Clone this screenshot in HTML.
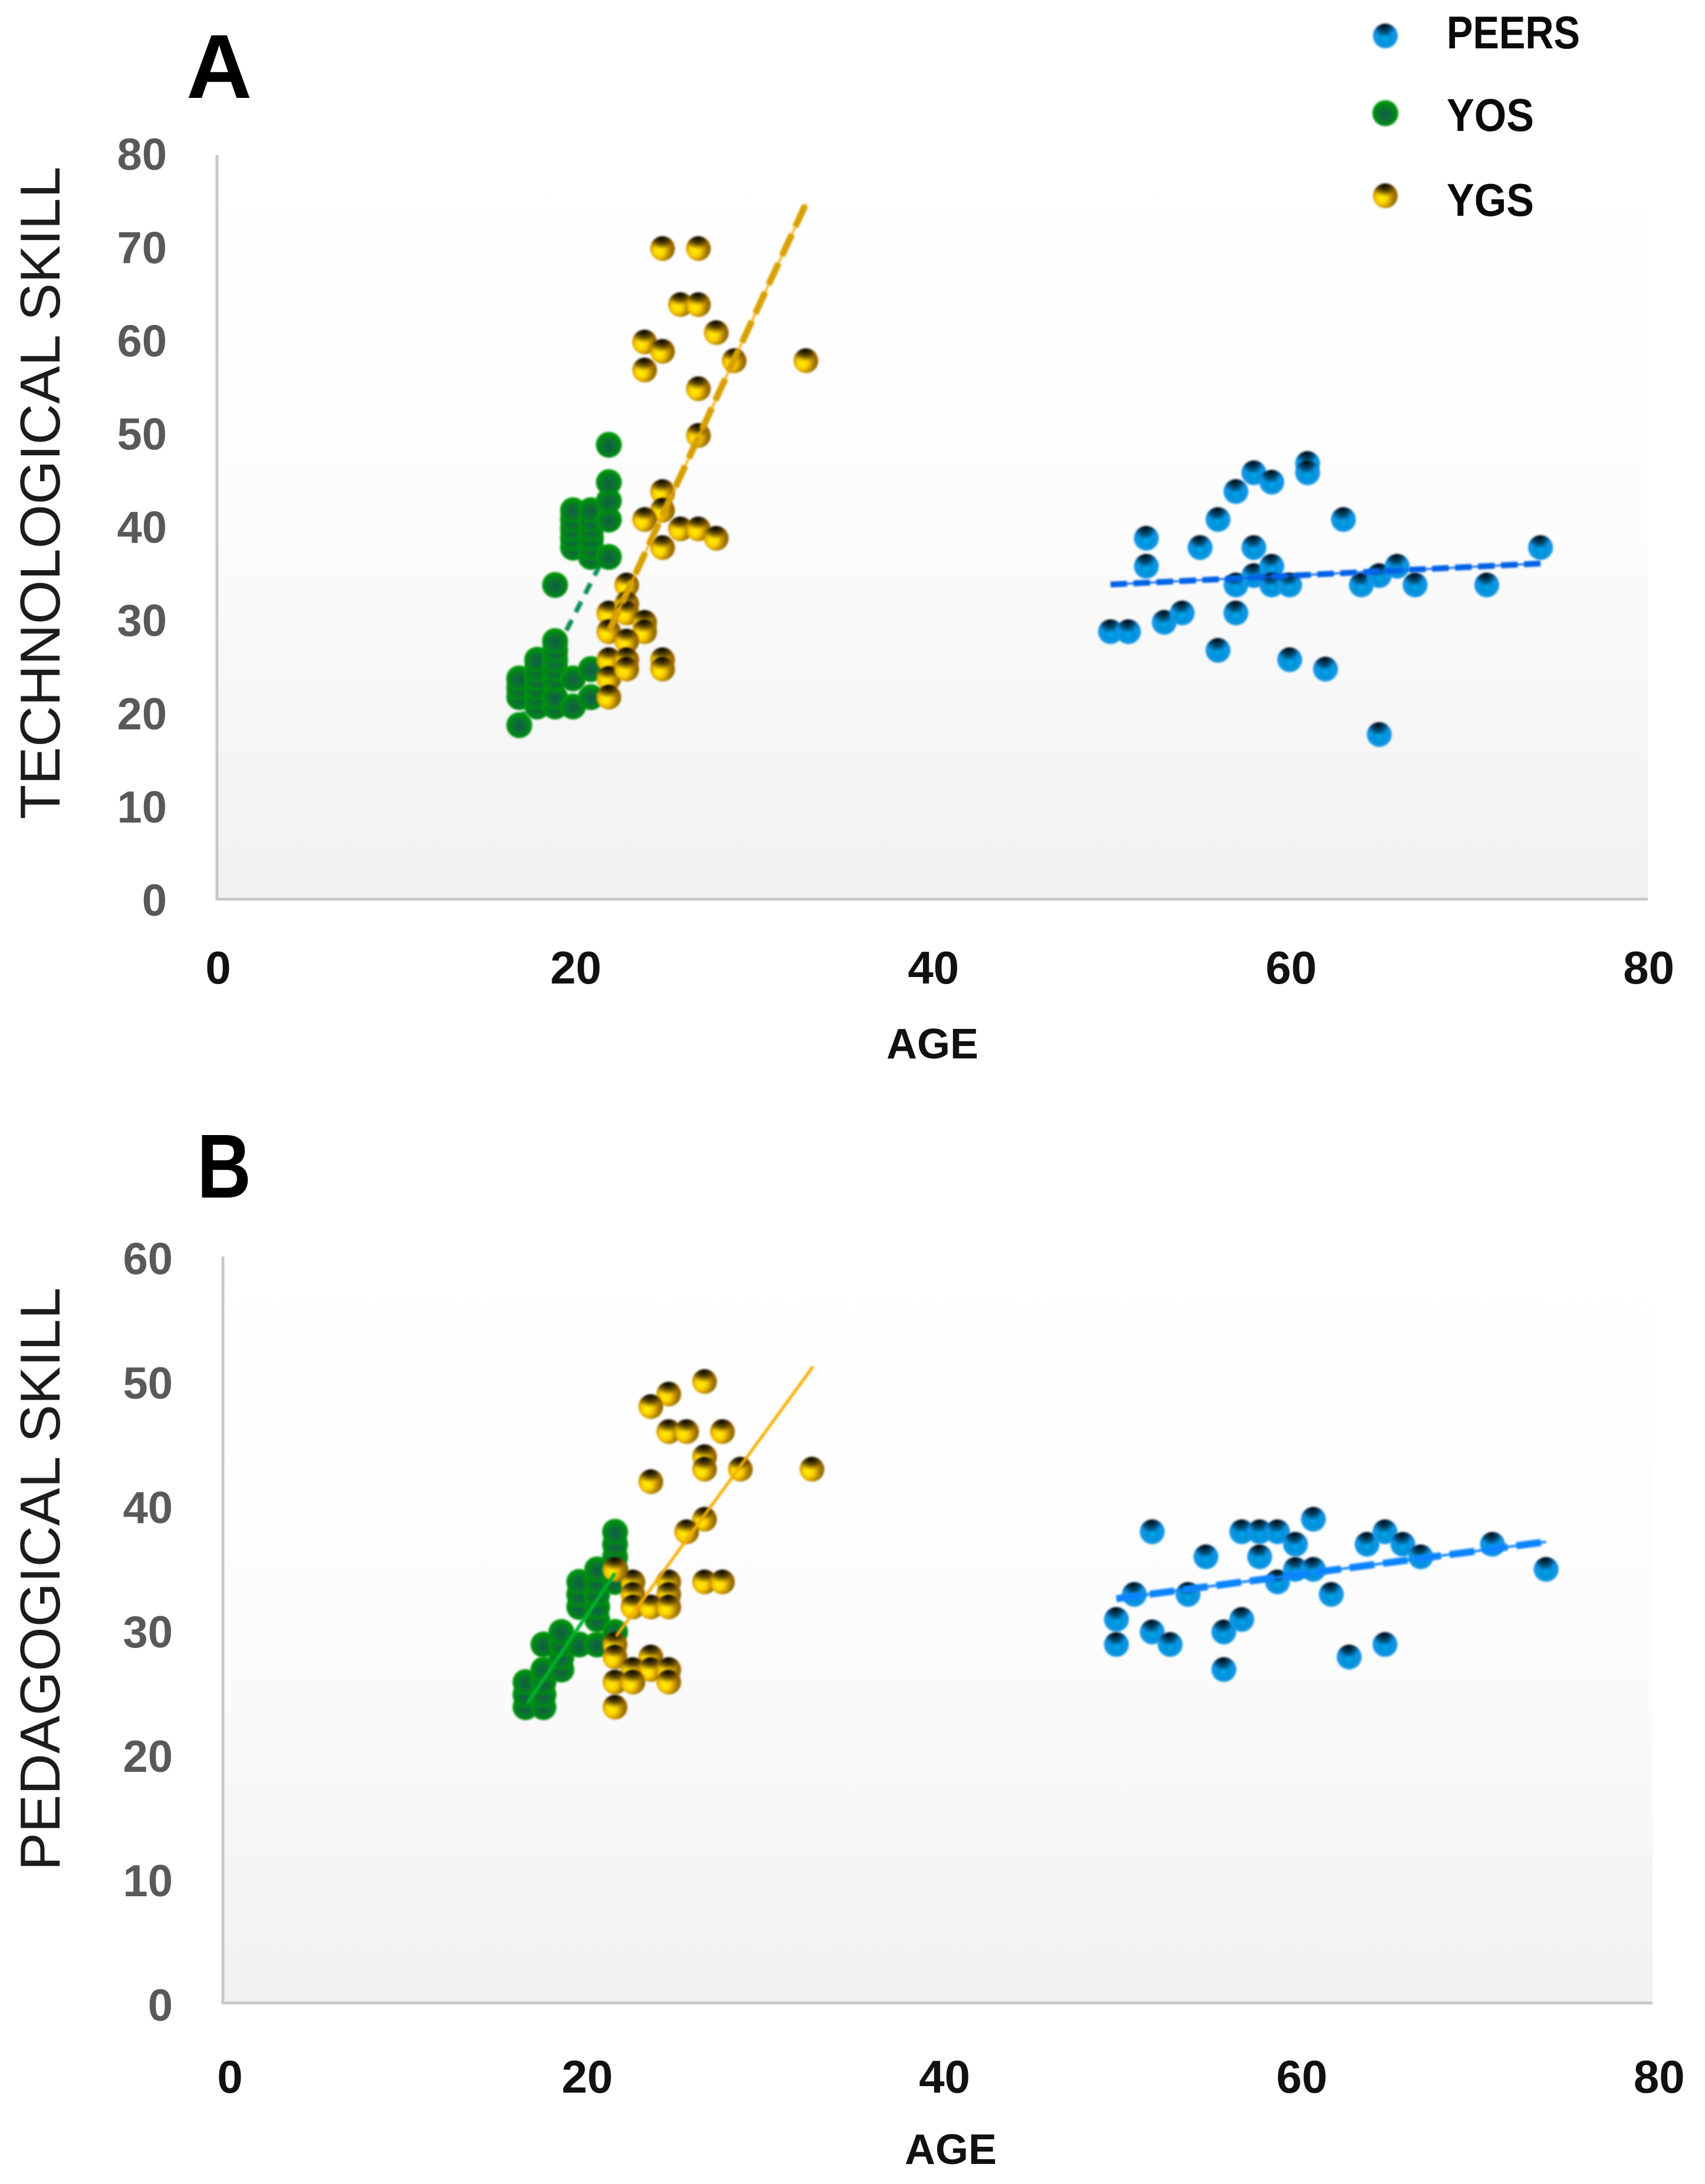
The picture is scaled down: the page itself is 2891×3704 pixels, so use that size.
<!DOCTYPE html>
<html lang="en">
<head>
<meta charset="utf-8">
<title>Technological and pedagogical skill by age</title>
<style>
html,body{margin:0;padding:0;background:#fff;}
svg{display:block;}
text{font-family:"Liberation Sans",sans-serif;}
.ytick{font-size:76px;font-weight:bold;fill:#595959;text-anchor:end;}
.xtick{font-size:78px;font-weight:bold;fill:#111;text-anchor:middle;}
.xtitle{font-size:72px;font-weight:bold;fill:#111;text-anchor:middle;}
.ytitle{font-size:96px;fill:#1c1c1c;text-anchor:middle;}
.panel{font-size:154px;font-weight:bold;fill:#000;}
.legend{font-size:78px;font-weight:bold;fill:#0a0a0a;}
</style>
</head>
<body>
<svg id="chart" xmlns="http://www.w3.org/2000/svg" width="2891" height="3704" viewBox="0 0 2891 3704">
  <defs>
    <linearGradient id="plotBg" x1="0" y1="0" x2="0" y2="1">
      <stop offset="0" stop-color="#ffffff"/>
      <stop offset="0.5" stop-color="#fcfcfc"/>
      <stop offset="1" stop-color="#f1f1f1"/>
    </linearGradient>
    <radialGradient id="blueBall" cx="0.5" cy="0.6" r="0.6">
      <stop offset="0" stop-color="#00a8f0"/>
      <stop offset="0.35" stop-color="#0590d8"/>
      <stop offset="0.7" stop-color="#0a98e8"/>
      <stop offset="1" stop-color="#0a80e0"/>
    </radialGradient>
    <radialGradient id="greenBall" cx="0.5" cy="0.55" r="0.55">
      <stop offset="0" stop-color="#0b5f42"/>
      <stop offset="0.4" stop-color="#0a6e34"/>
      <stop offset="0.75" stop-color="#018a12"/>
      <stop offset="1" stop-color="#00a010"/>
    </radialGradient>
    <radialGradient id="yellowBall" cx="0.36" cy="0.6" r="0.75">
      <stop offset="0" stop-color="#fff200"/>
      <stop offset="0.28" stop-color="#ffd000"/>
      <stop offset="0.55" stop-color="#b88800"/>
      <stop offset="0.75" stop-color="#8a6a00"/>
      <stop offset="1" stop-color="#e87000"/>
    </radialGradient>
    <radialGradient id="ballShade" cx="0.45" cy="0.06" r="0.48">
      <stop offset="0" stop-color="#000" stop-opacity="0.95"/>
      <stop offset="0.55" stop-color="#000" stop-opacity="0.55"/>
      <stop offset="1" stop-color="#000" stop-opacity="0"/>
    </radialGradient>
    <filter id="soft" x="-20%" y="-20%" width="140%" height="140%"><feGaussianBlur stdDeviation="1.6"/></filter>
  </defs>
  <g id="panelA"></g>
  <g id="panelB"></g>

  <text class="panel" x="316" y="166">A</text>
  <text class="panel" x="334" y="2031" textLength="92" lengthAdjust="spacingAndGlyphs">B</text>
  <text class="ytitle" transform="translate(101 836) rotate(-90)" textLength="1107" lengthAdjust="spacingAndGlyphs">TECHNOLOGICAL SKILL</text>
  <text class="ytitle" transform="translate(101 2678) rotate(-90)" textLength="989" lengthAdjust="spacingAndGlyphs">PEDAGOGICAL SKILL</text>
  <text class="xtitle" x="1581" y="1795">AGE</text>
  <text class="xtitle" x="1612" y="3670">AGE</text>

  <g id="legend">
    <text class="legend" x="2453" y="82" textLength="226" lengthAdjust="spacingAndGlyphs">PEERS</text>
    <text class="legend" x="2453" y="222" textLength="148" lengthAdjust="spacingAndGlyphs">YOS</text>
    <text class="legend" x="2453" y="366" textLength="148" lengthAdjust="spacingAndGlyphs">YGS</text>
  </g>
</svg>
<script>
const ageTicks = [0, 20, 40, 60, 80];
const techTicks = [0, 10, 20, 30, 40, 50, 60, 70, 80];
const pedaTicks = [0, 10, 20, 30, 40, 50, 60];

const peersAgeA = [50,51,52,52,53,54,55,56,56,57,57,57,58,58,58,59,59,59,60,60,61,61,62,63,64,65,65,66,67,71,74];
const peersTechA = [29,29,39,36,30,31,38,41,27,44,34,31,46,38,35,45,36,34,34,26,47,46,25,41,34,35,18,36,34,34,38];
const yosAgeA = [17,17,17,17,18,18,18,18,18,18,19,19,19,19,19,19,19,19,20,20,20,20,20,20,20,21,21,21,21,21,21,21,21,22,22,22,22,22];
const yosTechA = [19,22,23,24,21,22,23,24,25,26,21,22,24,25,26,27,28,34,21,24,38,39,40,41,42,22,25,37,38,39,40,41,42,37,41,43,45,49];
const ygsAgeA = [25,27,26,27,28,24,25,29,33,24,27,27,25,25,24,26,27,28,25,23,22,23,23,24,24,22,23,22,23,25,22,23,25,22];
const ygsTechA = [70,70,64,64,61,60,59,58,58,57,55,50,44,42,41,40,40,39,38,34,31,32,31,30,29,29,28,26,26,26,24,25,25,22];
const trendPeersAgeA = [50, 74];
const trendPeersTechA = [34.05, 36.3];
const trendYosAgeA = [17, 22];
const trendYosTechA = [19.3, 38];
const trendYgsAgeA = [22, 33];
const trendYgsTechA = [29, 74.8];

const peersAgeB = [50,50,51,52,52,53,54,55,56,56,57,57,58,58,59,59,60,60,61,61,62,63,64,65,65,66,67,71,74];
const peersPedaB = [31,29,33,38,30,29,33,36,30,27,31,38,38,36,38,34,37,35,39,35,33,28,37,38,29,37,36,37,35];
const yosAgeB = [17,17,17,18,18,18,18,18,19,19,19,19,20,20,20,20,21,21,21,21,21,21,22,22,22,22,22,22];
const yosPedaB = [24,25,26,24,25,26,27,29,27,28,29,30,29,32,33,34,29,31,32,33,34,35,30,34,35,36,37,38];
const ygsAgeB = [27,25,24,25,26,28,27,27,29,33,24,27,26,23,25,27,28,22,23,25,23,24,25,22,22,24,23,24,25,22,23,25,22];
const ygsPedaB = [50,49,48,46,46,46,44,43,43,43,42,39,38,34,34,34,34,35,33,33,32,32,32,29,28,28,27,27,27,26,26,26,24];
const trendPeersAgeB = [50, 74];
const trendPeersPedaB = [32.66, 37.2];
const trendYosAgeB = [17.1, 22];
const trendYosPedaB = [24.3, 34.7];
const trendYgsAgeB = [22.06, 33.06];
const trendYgsPedaB = [29.66, 51.2];

const legendSeries = ['peers', 'yos', 'ygs'];

const NS = 'http://www.w3.org/2000/svg';

function make(tag, parent, attrs) {
  const el = document.createElementNS(NS, tag);
  Object.keys(attrs).forEach(function (k) { el.setAttribute(k, attrs[k]); });
  parent.appendChild(el);
  return el;
}

const fills = { peers: 'url(#blueBall)', yos: 'url(#greenBall)', ygs: 'url(#yellowBall)' };
const radii = { peers: 21, yos: 22, ygs: 21 };

function drawBall(parent, cx, cy, series, name) {
  const g = make('g', parent, { filter: 'url(#soft)' });
  
  
  make('circle', g, { cx: cx, cy: cy, r: radii[series], fill: fills[series] });
  if (series !== 'yos') {
    make('circle', g, { cx: cx, cy: cy, r: radii[series], fill: 'url(#ballShade)' });
  }
}

function drawPoints(parent, xs, ys, series, sx, sy, prefix) {
  const g = make('g', parent, {});
  
  
  xs.forEach(function (v, i) {
    drawBall(g, sx(v), sy(ys[i]), series, prefix + '-point');
  });
}

function drawTrend(parent, xs, ys, sx, sy, style, name) {
  const g = make('g', parent, { filter: 'url(#soft)' });
  
  
  const coords = { x1: sx(xs[0]), y1: sy(ys[0]), x2: sx(xs[1]), y2: sy(ys[1]) };
  if (style.under) {
    make('line', g, Object.assign({}, coords, { stroke: style.under, 'stroke-width': style.underWidth }));
  }
  make('line', g, Object.assign({}, coords, { stroke: style.color, 'stroke-width': style.width, 'stroke-dasharray': style.dash || 'none' }));
}

function drawFrame(parent, p, xTicks, yTicks) {
  const bg = make('rect', parent, { x: p.left, y: p.top, width: p.right - p.left, height: p.bottom - p.top, fill: 'url(#plotBg)' });
  
  
  const ya = make('line', parent, { x1: p.left, y1: p.top, x2: p.left, y2: p.bottom + 2, stroke: '#c8c8c8', 'stroke-width': 5 });
  
  
  const xa = make('line', parent, { x1: p.left, y1: p.bottom, x2: p.right, y2: p.bottom, stroke: '#c8c8c8', 'stroke-width': 5 });
  
  
  yTicks.forEach(function (v) {
    const t = make('text', parent, { class: 'ytick', x: p.yLabelX, y: p.yLabel0 - p.yLabelK * v + 27 });
    
    
    t.textContent = String(v);
  });
  xTicks.forEach(function (v) {
    const t = make('text', parent, { class: 'xtick', x: p.xLabel0 + p.xLabelK * v, y: p.xLabelY });
    
    
    t.textContent = String(v);
  });
}

const frameA = { id: 'panel-a', left: 368, right: 2794, top: 263, bottom: 1525, yLabelX: 283, yLabel0: 1526, yLabelK: 15.81, xLabel0: 370, xLabelK: 30.32, xLabelY: 1668 };
const frameB = { id: 'panel-b', left: 378, right: 2802, top: 2131, bottom: 3397, yLabelX: 293, yLabel0: 3400, yLabelK: 21.1, xLabel0: 390, xLabelK: 30.29, xLabelY: 3549 };

function xScaleA(v) { return 364 + 30.38 * v; }
function yScaleA(v) { return 1531 - 15.85 * v; }
function xScaleB(v) { return 375 + 30.36 * v; }
function yScaleB(v) { return 3405 - 21.24 * v; }

const panelA = document.getElementById('panelA');
drawFrame(panelA, frameA, ageTicks, techTicks);
drawTrend(panelA, trendYosAgeA, trendYosTechA, xScaleA, yScaleA, { color: '#0a8f58', width: 8, dash: '20 15' }, 'panel-a-yos-trendline');
drawPoints(panelA, yosAgeA, yosTechA, 'yos', xScaleA, yScaleA, 'panel-a-yos');
drawPoints(panelA, ygsAgeA, ygsTechA, 'ygs', xScaleA, yScaleA, 'panel-a-ygs');
drawTrend(panelA, trendYgsAgeA, trendYgsTechA, xScaleA, yScaleA, { color: '#d8a000', width: 11, dash: '40 14', under: '#f5b000', underWidth: 3.5 }, 'panel-a-ygs-trendline');
drawPoints(panelA, peersAgeA, peersTechA, 'peers', xScaleA, yScaleA, 'panel-a-peers');
drawTrend(panelA, trendPeersAgeA, trendPeersTechA, xScaleA, yScaleA, { color: '#0062e6', width: 10, dash: '28 11', under: '#0062e6', underWidth: 3 }, 'panel-a-peers-trendline');

const panelB = document.getElementById('panelB');
drawFrame(panelB, frameB, ageTicks, pedaTicks);
drawPoints(panelB, yosAgeB, yosPedaB, 'yos', xScaleB, yScaleB, 'panel-b-yos');
drawPoints(panelB, ygsAgeB, ygsPedaB, 'ygs', xScaleB, yScaleB, 'panel-b-ygs');
drawTrend(panelB, trendYosAgeB, trendYosPedaB, xScaleB, yScaleB, { color: '#00b02c', width: 6 }, 'panel-b-yos-trendline');
drawTrend(panelB, trendYgsAgeB, trendYgsPedaB, xScaleB, yScaleB, { color: '#f5ae00', width: 5 }, 'panel-b-ygs-trendline');
drawPoints(panelB, peersAgeB, peersPedaB, 'peers', xScaleB, yScaleB, 'panel-b-peers');
drawTrend(panelB, trendPeersAgeB, trendPeersPedaB, xScaleB, yScaleB, { color: '#0a84ff', width: 12, dash: '42 15', under: '#0a84ff', underWidth: 4 }, 'panel-b-peers-trendline');

const legendGroup = document.getElementById('legend');
const legendCy = [61, 192, 332];
legendSeries.forEach(function (s, i) {
  drawBall(legendGroup, 2349, legendCy[i], s, 'legend-marker-' + s);
});
</script>
</body>
</html>
